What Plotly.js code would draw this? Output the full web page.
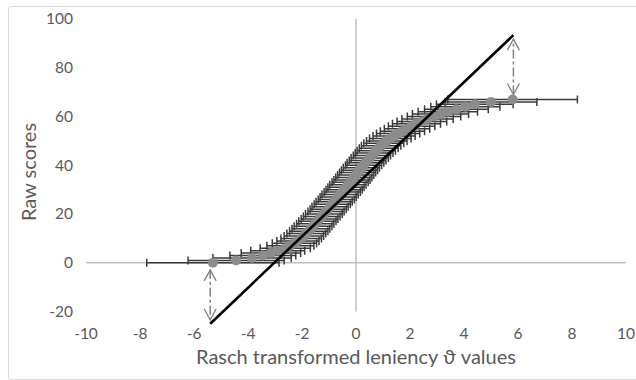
<!DOCTYPE html>
<html>
<head>
<meta charset="utf-8">
<script src="https://cdn.plot.ly/plotly-3.0.1.min.js"></script>
<style>
html,body{margin:0;padding:0;background:#fff;overflow:hidden}
#wrap{position:relative;width:636px;height:380px;overflow:hidden}
#chart{width:636px;height:380px}
#frame{position:absolute;left:8px;top:6px;width:640px;height:372px;border:1px solid #d9d9d9;border-radius:3px;pointer-events:none}
</style>
</head>
<body>
<div id="wrap"><div id="chart"></div><div id="frame"></div></div>
<script>
// Raw scores (y) and Rasch leniency estimates (x) with their standard errors
const rawScores = [
  0,1,2,3,4,5,6,7,8,9,10,11,12,13,14,15,16,17,18,19,20,21,22,23,24,25,26,27,28,29,30,31,32,33,
  34,35,36,37,38,39,40,41,42,43,44,45,46,47,48,49,50,51,52,53,54,55,56,57,58,59,60,61,62,63,64,65,66,67
];
const leniency = [
  -5.30,-4.44,-3.85,-3.45,-3.15,-2.90,-2.62,-2.43,-2.28,-2.15,
  -2.03,-1.93,-1.84,-1.75,-1.67,-1.59,-1.51,-1.43,-1.35,-1.27,
  -1.19,-1.11,-1.03,-0.96,-0.88,-0.81,-0.73,-0.66,-0.59,-0.51,
  -0.44,-0.37,-0.30,-0.22,-0.15,-0.08,-0.01,0.06,0.13,0.20,
  0.28,0.35,0.43,0.51,0.59,0.67,0.75,0.84,0.93,1.03,
  1.14,1.27,1.41,1.56,1.72,1.89,2.06,2.24,2.44,2.65,
  2.89,3.13,3.40,3.72,4.05,4.40,5.00,5.80
];
const leniencyError = [
  2.45,1.78,1.45,1.22,1.10,1.00,0.93,0.87,0.82,0.78,
  0.75,0.73,0.72,0.71,0.70,0.70,0.69,0.69,0.68,0.68,
  0.68,0.67,0.67,0.67,0.67,0.67,0.67,0.67,0.67,0.67,
  0.67,0.67,0.67,0.67,0.67,0.67,0.67,0.67,0.67,0.67,
  0.67,0.68,0.68,0.69,0.69,0.70,0.71,0.72,0.73,0.74,
  0.75,0.77,0.78,0.80,0.82,0.84,0.86,0.89,0.92,0.95,
  0.99,1.04,1.10,1.18,1.28,1.42,1.70,2.40
];
// Straight reference line
const lineX = [-5.40, 5.83];
const lineY = [-25.0, 93.4];
// Axis ticks
const xTicks = [-10,-8,-6,-4,-2,0,2,4,6,8,10];
const yTicks = [-20,0,20,40,60,80,100];

const W = 636, H = 380;
const M = {l:86, r:10, t:19, b:55};
const xRange = [-10, 10], yRange = [-25.5, 100];
const pxX = (xRange[1]-xRange[0]) / (W - M.l - M.r);
const pxY = (yRange[1]-yRange[0]) / (H - M.t - M.b);

const arrowColor = '#7f7f7f';
function arrowShapes(x, yFrom, yTo) {
  const shapes = [];
  shapes.push({type:'line', xref:'x', yref:'y', x0:x, x1:x, y0:yFrom, y1:yTo,
               line:{color:arrowColor, width:1.5, dash:'dashdot'}});
  const hw = 6*pxX, hl = 11*pxY;
  [[yFrom, yTo > yFrom ? 1 : -1],[yTo, yTo > yFrom ? -1 : 1]].forEach(([tip, dir]) => {
    shapes.push({type:'path', xref:'x', yref:'y',
      path:`M${x-hw},${tip+dir*hl} L${x},${tip} L${x+hw},${tip+dir*hl}`,
      line:{color:arrowColor, width:1.3}});
  });
  return shapes;
}
const n = rawScores.length;
const shapes = [
  {type:'line', xref:'x', yref:'y', x0:xRange[0], x1:xRange[1], y0:0, y1:0, layer:'below', line:{color:'#bfbfbf', width:1.5}},
  {type:'line', xref:'x', yref:'y', x0:0, x1:0, y0:yTicks[0], y1:yTicks[yTicks.length-1], layer:'below', line:{color:'#bfbfbf', width:1.5}},
  ...arrowShapes(lineX[0], rawScores[0] - 7*pxY, lineY[0] + 4*pxY),
  ...arrowShapes(lineX[1], rawScores[n-1] + 5*pxY, lineY[1] - 4*pxY)
];

const font = "Lato, 'Open Sans', sans-serif";
const traces = [
  {x: leniency, y: rawScores, type:'scatter', mode:'markers',
   marker:{color:'#8c8c8c', size:10},
   error_x:{type:'data', array: leniencyError, visible:true, color:'#3a3a3a', thickness:1.5, width:4},
   hoverinfo:'skip'},
  {x: lineX, y: lineY, type:'scatter', mode:'lines', line:{color:'#000000', width:2.6}, hoverinfo:'skip'}
];
const layout = {
  width:W, height:H, margin:M, showlegend:false,
  paper_bgcolor:'#ffffff', plot_bgcolor:'#ffffff',
  font:{family:font, color:'#595959'},
  xaxis:{range:xRange, tickvals:xTicks, ticktext:xTicks.map(String), showgrid:false, zeroline:false, showline:false, ticks:'',
         tickfont:{size:15.5, color:'#595959'}, ticklabelstandoff:-3,
         title:{text:'Rasch transformed leniency ϑ values', font:{size:20, color:'#595959'}, standoff:9}},
  yaxis:{range:yRange, tickvals:yTicks, ticktext:yTicks.map(String), showgrid:false, zeroline:false, showline:false, ticks:'',
         tickfont:{size:15.5, color:'#595959'}, ticklabelstandoff:12,
         title:{text:'Raw scores', font:{size:20, color:'#595959'}, standoff:4}},
  shapes: shapes
};
Plotly.newPlot('chart', traces, layout, {staticPlot:true, displayModeBar:false});
</script>
</body>
</html>
